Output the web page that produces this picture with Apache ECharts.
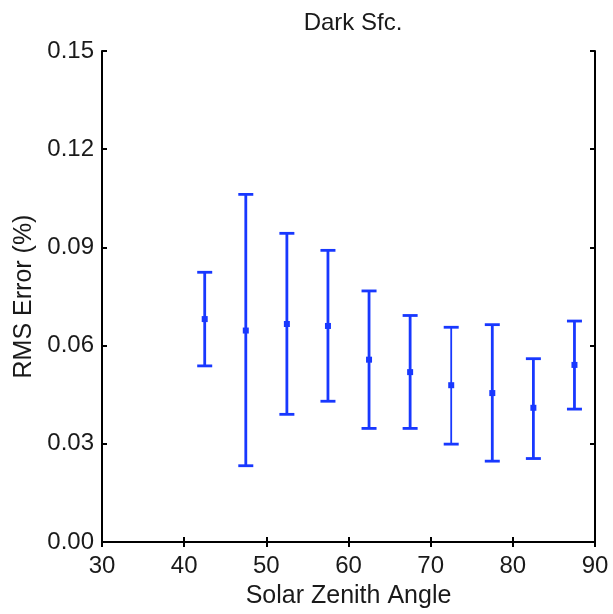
<!DOCTYPE html>
<html>
<head>
<meta charset="utf-8">
<script src="https://cdn.jsdelivr.net/npm/echarts@6/dist/echarts.min.js"></script>
<style>html,body{margin:0;padding:0;background:#fff;}#c{width:613px;height:614px;}</style>
</head>
<body>
<div id="c"></div>
<script>
const titleText = 'Dark Sfc.';
const xName = 'Solar Zenith Angle';
const yName = 'RMS Error (%)';
const angles = [42.5, 47.5, 52.5, 57.5, 62.5, 67.5, 72.5, 77.5, 82.5, 87.5];
const rmsMean = [0.0681, 0.0646, 0.0666, 0.0660, 0.0557, 0.0519, 0.0479, 0.0455, 0.0410, 0.0541];
const rmsLow  = [0.0538, 0.0233, 0.0390, 0.0430, 0.0347, 0.0347, 0.0299, 0.0247, 0.0255, 0.0406];
const rmsHigh = [0.0824, 0.1062, 0.0943, 0.0891, 0.0767, 0.0692, 0.0656, 0.0664, 0.0560, 0.0675];
const thinBarAngles = [72.5];

const seriesData = angles.map((a, i) => [a, rmsLow[i], rmsMean[i], rmsHigh[i]]);
const blue = '#1838ff';
const font = '"Liberation Sans", Arial, sans-serif';
const textColor = '#1a1a1a';

const chart = echarts.init(document.getElementById('c'));
chart.setOption({
  animation: false,
  title: {
    text: titleText, left: 348, top: 6, textAlign: 'center',
    textStyle: { fontFamily: font, fontSize: 24, fontWeight: 'normal', color: textColor }
  },
  grid: { left: 102, right: 18, top: 51, bottom: 70 },
  xAxis: [{
    type: 'value', min: 30, max: 90, interval: 10,
    name: xName, nameLocation: 'middle', nameGap: 42,
    nameTextStyle: { fontFamily: font, fontSize: 25, color: textColor, verticalAlign: 'top' },
    axisLine: { lineStyle: { color: '#000', width: 2 } },
    axisTick: { inside: true, length: 5, lineStyle: { color: '#000', width: 2 } },
    axisLabel: { fontFamily: font, fontSize: 24, color: textColor, margin: 12 },
    splitLine: { show: false }
  }, {
    type: 'value', min: 30, max: 90, interval: 10, position: 'top',
    axisLine: { lineStyle: { color: '#000', width: 2 } },
    axisTick: { inside: true, length: 5, lineStyle: { color: '#000', width: 2 } },
    axisLabel: { show: false }, splitLine: { show: false }
  }],
  yAxis: [{
    type: 'value', min: 0, max: 0.15, interval: 0.03,
    name: yName, nameLocation: 'middle', nameGap: 76, nameRotate: 90,
    nameTextStyle: { fontFamily: font, fontSize: 25, color: textColor, verticalAlign: 'middle' },
    axisLine: { show: true, lineStyle: { color: '#000', width: 2 } },
    axisTick: { show: true, inside: true, length: 5, lineStyle: { color: '#000', width: 2 } },
    axisLabel: { fontFamily: font, fontSize: 24, color: textColor, margin: 8, formatter: v => v.toFixed(2) },
    splitLine: { show: false }
  }, {
    type: 'value', min: 0, max: 0.15, interval: 0.03, position: 'right',
    axisLine: { show: true, lineStyle: { color: '#000', width: 2 } },
    axisTick: { show: true, inside: true, length: 5, lineStyle: { color: '#000', width: 2 } },
    axisLabel: { show: false }, splitLine: { show: false }
  }],
  series: [{
    type: 'custom',
    xAxisIndex: 0, yAxisIndex: 0,
    data: seriesData,
    renderItem: function (params, api) {
      const x = api.value(0);
      const pLow = api.coord([x, api.value(1)]);
      const pMid = api.coord([x, api.value(2)]);
      const pHigh = api.coord([x, api.value(3)]);
      const w = thinBarAngles.indexOf(x) >= 0 ? 1.8 : 2.8;
      const half = 7.5;
      const style = { stroke: blue, lineWidth: w, fill: null };
      return {
        type: 'group',
        children: [
          { type: 'line', shape: { x1: pLow[0], y1: pLow[1], x2: pHigh[0], y2: pHigh[1] }, style },
          { type: 'line', shape: { x1: pLow[0] - half, y1: pLow[1], x2: pLow[0] + half, y2: pLow[1] }, style: { stroke: blue, lineWidth: 2.8 } },
          { type: 'line', shape: { x1: pHigh[0] - half, y1: pHigh[1], x2: pHigh[0] + half, y2: pHigh[1] }, style: { stroke: blue, lineWidth: 2.8 } },
          { type: 'rect', shape: { x: pMid[0] - 3, y: pMid[1] - 3, width: 6, height: 6 }, style: { fill: blue } }
        ]
      };
    }
  }]
});
</script>
</body>
</html>
